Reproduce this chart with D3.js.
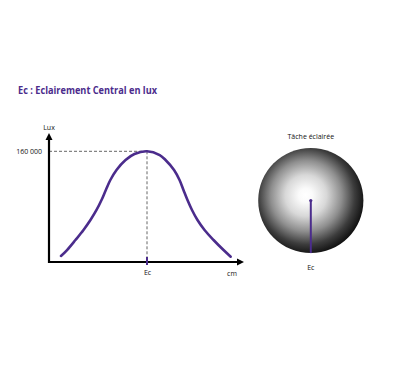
<!DOCTYPE html>
<html>
<head>
<meta charset="utf-8">
<script src="https://cdn.jsdelivr.net/npm/d3@7"></script>
<style>
  html, body { margin: 0; padding: 0; background: #fff; }
  svg { display: block; }
  text { font-family: "Open Sans", "Lato", sans-serif; }
</style>
</head>
<body>
<div id="chart"></div>
<script>
// ---- Data ----
const title = "Ec : Eclairement Central en lux";
const yAxisLabel = "Lux";
const xAxisLabel = "cm";
const centerLabel = "Ec";
const spotTitle = "Tâche éclairée";
const peakLabel = "160 000";
const peakValue = 160000;
// Distance from the centre (arbitrary cm units, Ec = 0)
const positions = [-8.78, -8.16, -7.3, -6.48, -5.77, -5.15, -4.64, -4.2, -3.74, -3.11, -2.19, -1.28, 0,
                   1.3, 1.89, 2.76, 3.32, 3.72, 4.13, 4.59, 5.15, 5.87, 6.79, 7.81, 8.54];
// Illuminance in lux
const luxValues = [8700, 17300, 31800, 46300, 60700, 75200, 89600, 104100, 118500, 133000, 147400, 156100, 160000,
                   154500, 147400, 133000, 118500, 104100, 89600, 75200, 60700, 46300, 31800, 17300, 7700];

const W = 400, H = 368;
const purple = "#4b2c8c";

const svg = d3.select("#chart").append("svg")
  .attr("width", W).attr("height", H);

// Title
svg.append("text")
  .attr("x", 18).attr("y", 93.5)
  .attr("fill", purple)
  .attr("font-weight", 700)
  .attr("font-size", 10.5)
  .attr("textLength", 139)
  .attr("lengthAdjust", "spacingAndGlyphs")
  .text(title);

// Scales
const x = d3.scaleLinear().domain([-10, 10]).range([49, 245]);
const y = d3.scaleLinear().domain([0, peakValue]).range([262, 151.3]);

// Dashed guides to the peak
svg.append("line")
  .attr("x1", x(-10)).attr("x2", x(0))
  .attr("y1", y(peakValue)).attr("y2", y(peakValue))
  .attr("stroke", "#666").attr("stroke-width", 1)
  .attr("stroke-dasharray", "3,2");
svg.append("line")
  .attr("x1", x(0)).attr("x2", x(0))
  .attr("y1", y(peakValue)).attr("y2", y(0))
  .attr("stroke", "#666").attr("stroke-width", 1)
  .attr("stroke-dasharray", "3,2");

// Curve
const line = d3.line()
  .x((d, i) => x(positions[i]))
  .y(d => y(d))
  .curve(d3.curveCatmullRom.alpha(0.5));
svg.append("path")
  .datum(luxValues)
  .attr("d", line)
  .attr("fill", "none")
  .attr("stroke", purple)
  .attr("stroke-width", 2.6)
  .attr("stroke-linecap", "round");

// Axes (with arrows)
const x0 = x(-10), yBase = y(0);
const yTop = 134, xEnd = 243;
svg.append("line")
  .attr("x1", x0).attr("x2", x0)
  .attr("y1", yBase + 1).attr("y2", yTop + 5)
  .attr("stroke", "#000").attr("stroke-width", 2.2);
svg.append("path")
  .attr("d", `M${x0 - 3.5},${yTop + 6} L${x0},${yTop - 1} L${x0 + 3.5},${yTop + 6} Z`)
  .attr("fill", "#000");
svg.append("line")
  .attr("x1", x0 - 1).attr("x2", xEnd - 5)
  .attr("y1", yBase).attr("y2", yBase)
  .attr("stroke", "#000").attr("stroke-width", 2.2);
svg.append("path")
  .attr("d", `M${xEnd - 6},${yBase - 3.5} L${xEnd + 1},${yBase} L${xEnd - 6},${yBase + 3.5} Z`)
  .attr("fill", "#000");

// Ec tick on x axis
svg.append("line")
  .attr("x1", x(0)).attr("x2", x(0))
  .attr("y1", yBase - 5).attr("y2", yBase + 3)
  .attr("stroke", purple).attr("stroke-width", 2);

// Y axis tick label via d3 axis
const yAxis = d3.axisLeft(y).tickValues([peakValue]).tickSize(0).tickPadding(7)
  .tickFormat(() => peakLabel);
const gy = svg.append("g").attr("transform", `translate(${x0},0)`).call(yAxis);
gy.select(".domain").remove();
gy.selectAll("text").attr("font-size", 7).attr("fill", "#111")
  .attr("font-family", "'Open Sans', sans-serif");

// X axis tick label via d3 axis
const xAxis = d3.axisBottom(x).tickValues([0]).tickSize(0).tickPadding(8)
  .tickFormat(() => centerLabel);
const gx = svg.append("g").attr("transform", `translate(0,${yBase})`).call(xAxis);
gx.select(".domain").remove();
gx.selectAll("text").attr("font-size", 7).attr("fill", "#111")
  .attr("font-family", "'Open Sans', sans-serif");

// Axis labels
svg.append("text").attr("x", x0).attr("y", 129.5)
  .attr("text-anchor", "middle").attr("font-size", 7).attr("fill", "#111")
  .text(yAxisLabel);
svg.append("text").attr("x", 232).attr("y", 275.5)
  .attr("text-anchor", "middle").attr("font-size", 7).attr("fill", "#111")
  .text(xAxisLabel);

// Light spot (radial gradient)
const cx = 310.8, cy = 200.5, r = 52.6;
const defs = svg.append("defs");
const grad = defs.append("radialGradient").attr("id", "spot")
  .attr("cx", "46%").attr("cy", "46%").attr("r", "56%")
  .attr("fx", "45%").attr("fy", "45%");
const stops = [[0, "#ffffff"], [0.12, "#fafafa"], [0.35, "#d8d8d8"], [0.6, "#8f8f8f"], [0.82, "#3c3c3c"], [1, "#0e0e0e"]];
grad.selectAll("stop").data(stops).enter().append("stop")
  .attr("offset", d => d[0]).attr("stop-color", d => d[1]);

svg.append("circle")
  .attr("cx", cx).attr("cy", cy).attr("r", r)
  .attr("fill", "url(#spot)");

svg.append("line")
  .attr("x1", cx).attr("x2", cx)
  .attr("y1", cy).attr("y2", cy + r)
  .attr("stroke", purple).attr("stroke-width", 2);
svg.append("circle").attr("cx", cx).attr("cy", cy).attr("r", 1.6).attr("fill", purple);

svg.append("text").attr("x", cx).attr("y", 138.5)
  .attr("text-anchor", "middle").attr("font-size", 7).attr("fill", "#111")
  .text(spotTitle);
svg.append("text").attr("x", cx).attr("y", 269.5)
  .attr("text-anchor", "middle").attr("font-size", 7).attr("fill", "#111")
  .text(centerLabel);
</script>
</body>
</html>
